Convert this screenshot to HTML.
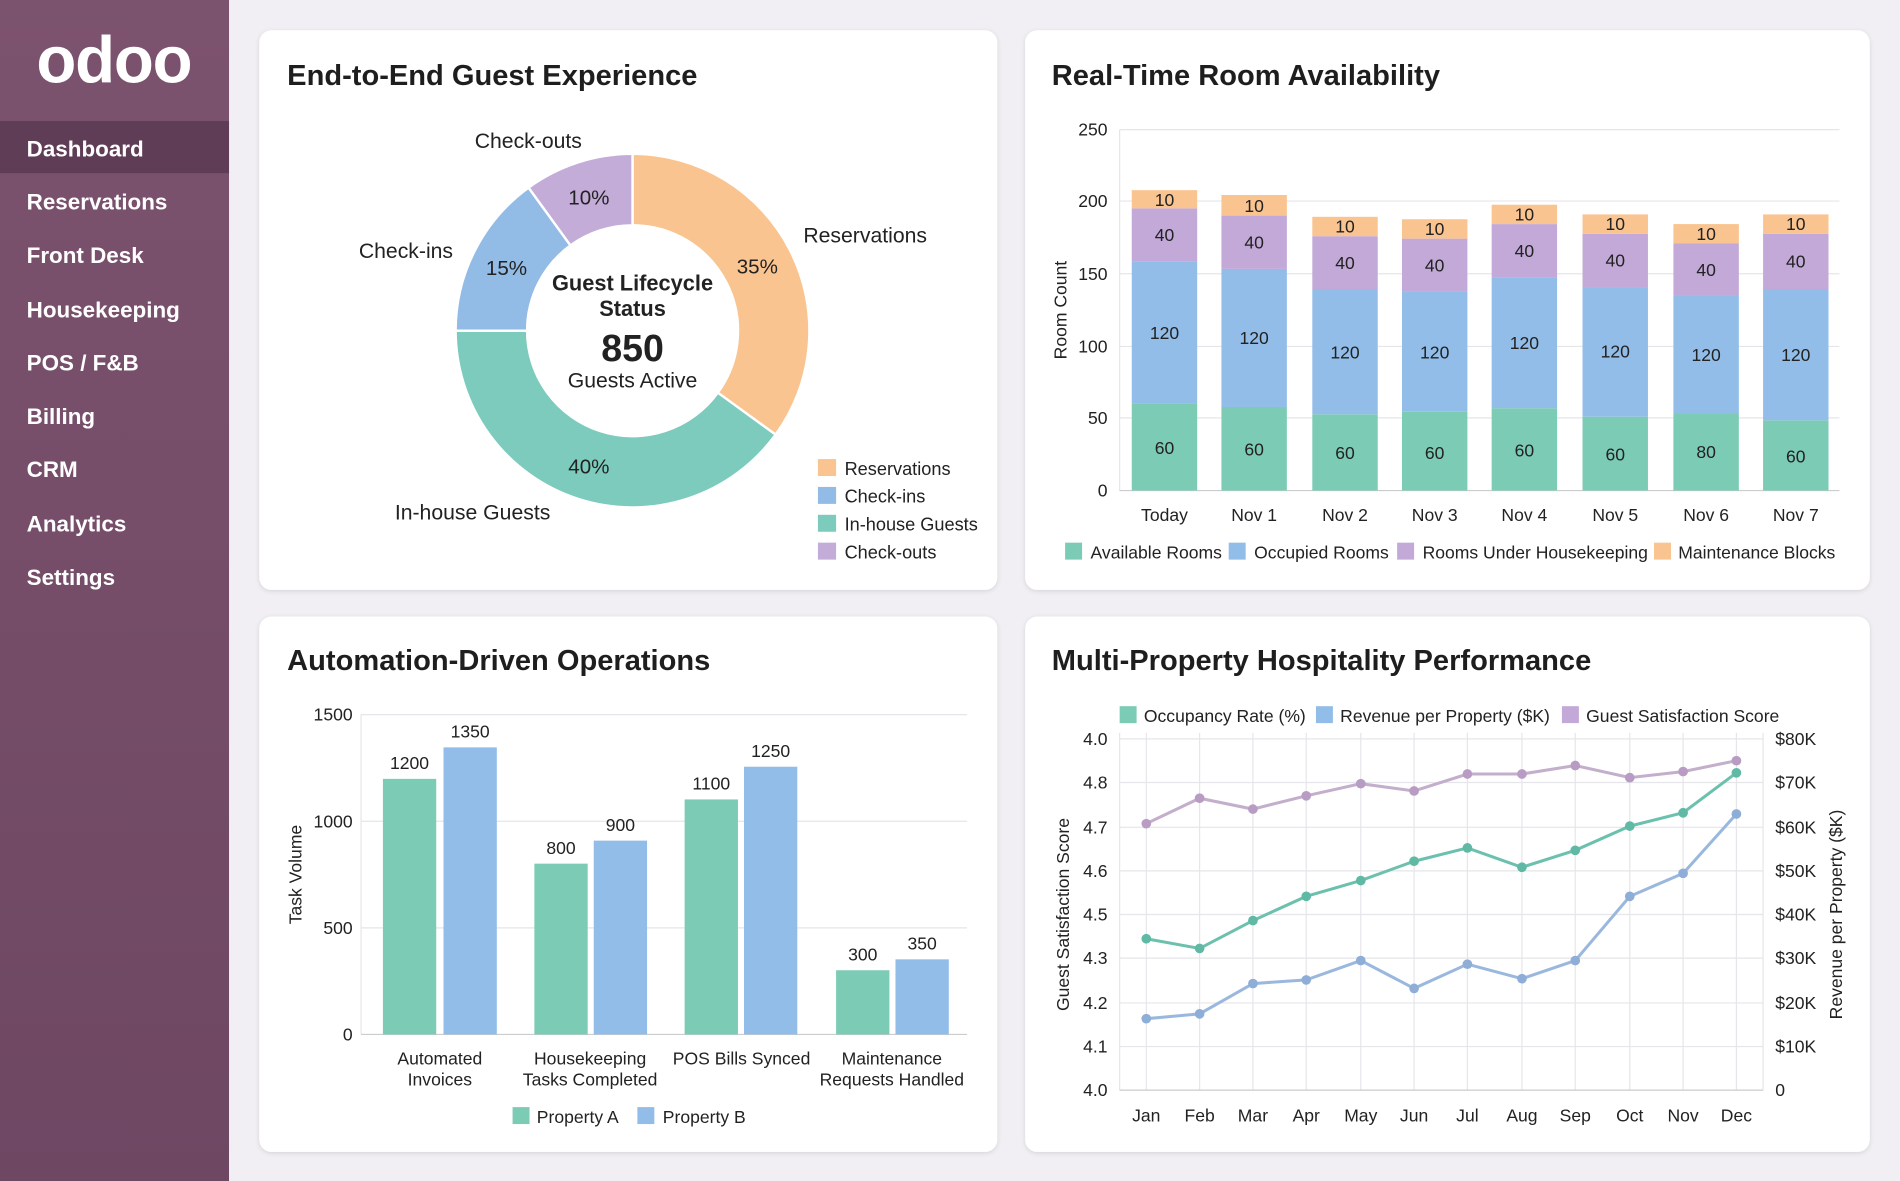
<!DOCTYPE html>
<html><head><meta charset="utf-8">
<style>
html,body{margin:0;padding:0;width:1900px;height:1181px;overflow:hidden;background:#f1eff3}
svg{display:block}
text{font-family:"Liberation Sans",sans-serif;fill:#222}
.t{font-size:24px;font-weight:bold;fill:#1e1e1e}
.m{font-size:18.5px;font-weight:bold;fill:#fff}
.s{font-size:15px;fill:#222}
.v{font-size:14.5px;fill:#333;text-anchor:middle}
.ax{font-size:14.5px;fill:#222}
.g{stroke:#e6e6ea;stroke-width:1}
</style></head><body>
<svg width="1900" height="1181" viewBox="0 0 1568 975" preserveAspectRatio="none">
<defs>
<linearGradient id="sb" x1="0" y1="0" x2="0" y2="1"><stop offset="0" stop-color="#7c536f"/><stop offset="1" stop-color="#6e4763"/></linearGradient>
<filter id="sh" x="-5%" y="-5%" width="110%" height="110%"><feDropShadow dx="0" dy="1" stdDeviation="2" flood-color="#000" flood-opacity="0.12"/></filter>
</defs>
<rect width="1568" height="975" fill="#f1eff3"/>
<!-- sidebar -->
<rect width="189" height="975" fill="url(#sb)"/>
<text x="94" y="68" text-anchor="middle" style="font-size:54px;fill:#fff;font-weight:bold;letter-spacing:-1px">odoo</text>
<rect x="0" y="100" width="189" height="43" fill="#5f3d56"/>
<text class="m" x="22" y="129">Dashboard</text>
<text class="m" x="22" y="173">Reservations</text>
<text class="m" x="22" y="217">Front Desk</text>
<text class="m" x="22" y="262">Housekeeping</text>
<text class="m" x="22" y="306">POS / F&amp;B</text>
<text class="m" x="22" y="350">Billing</text>
<text class="m" x="22" y="394">CRM</text>
<text class="m" x="22" y="439">Analytics</text>
<text class="m" x="22" y="483">Settings</text>
<!-- cards -->
<rect x="214" y="25" width="609" height="462" rx="10" fill="#fff" filter="url(#sh)"/>
<rect x="846" y="25" width="697" height="462" rx="10" fill="#fff" filter="url(#sh)"/>
<rect x="214" y="509" width="609" height="442" rx="10" fill="#fff" filter="url(#sh)"/>
<rect x="846" y="509" width="697" height="442" rx="10" fill="#fff" filter="url(#sh)"/>
<text class="t" x="237" y="70">End-to-End Guest Experience</text>
<text class="t" x="868" y="70">Real-Time Room Availability</text>
<text class="t" x="237" y="553">Automation-Driven Operations</text>
<text class="t" x="868" y="553">Multi-Property Hospitality Performance</text>

<!-- donut -->
<g stroke="#fff" stroke-width="2">
<path d="M522,127 A146,146 0 0 1 640.1,358.8 L592.4,324.2 A87,87 0 0 0 522,186 Z" fill="#f9c48f"/>
<path d="M640.1,358.8 A146,146 0 0 1 376,273 L435,273 A87,87 0 0 0 592.4,324.2 Z" fill="#7ccbbd"/>
<path d="M376,273 A146,146 0 0 1 436.2,154.9 L470.8,202.6 A87,87 0 0 0 435,273 Z" fill="#92bbe6"/>
<path d="M436.2,154.9 A146,146 0 0 1 522,127 L522,186 A87,87 0 0 0 470.8,202.6 Z" fill="#c3acd8"/>
</g>
<g text-anchor="middle">
<text x="522" y="240" style="font-size:18px;font-weight:bold">Guest Lifecycle</text>
<text x="522" y="261" style="font-size:18px;font-weight:bold">Status</text>
<text x="522" y="298" style="font-size:31px;font-weight:bold">850</text>
<text x="522" y="320" style="font-size:17.5px">Guests Active</text>
<text x="486" y="169" style="font-size:17px">10%</text>
<text x="625" y="226" style="font-size:17px">35%</text>
<text x="418" y="227" style="font-size:17px">15%</text>
<text x="486" y="391" style="font-size:17px">40%</text>
<text x="436" y="122" style="font-size:17.5px">Check-outs</text>
<text x="714" y="200" style="font-size:17.5px">Reservations</text>
<text x="335" y="213" style="font-size:17.5px">Check-ins</text>
<text x="390" y="429" style="font-size:17.5px">In-house Guests</text>
</g>
<rect x="675" y="379" width="15" height="14" fill="#f9c48f"/><text class="s" x="697" y="392">Reservations</text>
<rect x="675" y="402" width="15" height="14" fill="#92bbe6"/><text class="s" x="697" y="415">Check-ins</text>
<rect x="675" y="425" width="15" height="14" fill="#7ccbbd"/><text class="s" x="697" y="438">In-house Guests</text>
<rect x="675" y="448" width="15" height="14" fill="#c3acd8"/><text class="s" x="697" y="461">Check-outs</text>

<!-- stacked bars -->
<g class="g">
<line x1="924" y1="107" x2="1518" y2="107"/><line x1="924" y1="166" x2="1518" y2="166"/><line x1="924" y1="226" x2="1518" y2="226"/><line x1="924" y1="286" x2="1518" y2="286"/><line x1="924" y1="345" x2="1518" y2="345"/>
<line x1="924" y1="107" x2="924" y2="405"/>
</g>
<line x1="924" y1="405" x2="1518" y2="405" stroke="#ccc"/>
<g class="ax" text-anchor="end">
<text x="914" y="112">250</text><text x="914" y="171">200</text><text x="914" y="231">150</text><text x="914" y="291">100</text><text x="914" y="350">50</text><text x="914" y="410">0</text>
</g>
<text class="ax" transform="translate(880,256) rotate(-90)" text-anchor="middle">Room Count</text>
<g id="sb1"></g>
<g>
<!-- x, teal top, blue top, purple top, orange top -->
<rect x="934" y="333" width="54" height="72" fill="#7ccbb5"/><rect x="934" y="216" width="54" height="117" fill="#92bde8"/><rect x="934" y="172" width="54" height="44" fill="#c3a9d8"/><rect x="934" y="157" width="54" height="15" fill="#f9c48f"/>
<rect x="1008" y="336" width="54" height="69" fill="#7ccbb5"/><rect x="1008" y="222" width="54" height="114" fill="#92bde8"/><rect x="1008" y="178" width="54" height="44" fill="#c3a9d8"/><rect x="1008" y="161" width="54" height="17" fill="#f9c48f"/>
<rect x="1083" y="342" width="54" height="63" fill="#7ccbb5"/><rect x="1083" y="239" width="54" height="103" fill="#92bde8"/><rect x="1083" y="195" width="54" height="44" fill="#c3a9d8"/><rect x="1083" y="179" width="54" height="16" fill="#f9c48f"/>
<rect x="1157" y="340" width="54" height="65" fill="#7ccbb5"/><rect x="1157" y="241" width="54" height="99" fill="#92bde8"/><rect x="1157" y="197" width="54" height="44" fill="#c3a9d8"/><rect x="1157" y="181" width="54" height="16" fill="#f9c48f"/>
<rect x="1231" y="337" width="54" height="68" fill="#7ccbb5"/><rect x="1231" y="229" width="54" height="108" fill="#92bde8"/><rect x="1231" y="185" width="54" height="44" fill="#c3a9d8"/><rect x="1231" y="169" width="54" height="16" fill="#f9c48f"/>
<rect x="1306" y="344" width="54" height="61" fill="#7ccbb5"/><rect x="1306" y="237" width="54" height="107" fill="#92bde8"/><rect x="1306" y="193" width="54" height="44" fill="#c3a9d8"/><rect x="1306" y="177" width="54" height="16" fill="#f9c48f"/>
<rect x="1381" y="341" width="54" height="64" fill="#7ccbb5"/><rect x="1381" y="244" width="54" height="97" fill="#92bde8"/><rect x="1381" y="201" width="54" height="43" fill="#c3a9d8"/><rect x="1381" y="185" width="54" height="16" fill="#f9c48f"/>
<rect x="1455" y="347" width="54" height="58" fill="#7ccbb5"/><rect x="1455" y="239" width="54" height="108" fill="#92bde8"/><rect x="1455" y="193" width="54" height="46" fill="#c3a9d8"/><rect x="1455" y="177" width="54" height="16" fill="#f9c48f"/>
</g>
<g class="v">
<text x="961" y="375">60</text><text x="961" y="280">120</text><text x="961" y="199">40</text><text x="961" y="170">10</text>
<text x="1035" y="376">60</text><text x="1035" y="284">120</text><text x="1035" y="205">40</text><text x="1035" y="175">10</text>
<text x="1110" y="379">60</text><text x="1110" y="296">120</text><text x="1110" y="222">40</text><text x="1110" y="192">10</text>
<text x="1184" y="379">60</text><text x="1184" y="296">120</text><text x="1184" y="224">40</text><text x="1184" y="194">10</text>
<text x="1258" y="377">60</text><text x="1258" y="288">120</text><text x="1258" y="212">40</text><text x="1258" y="182">10</text>
<text x="1333" y="380">60</text><text x="1333" y="295">120</text><text x="1333" y="220">40</text><text x="1333" y="190">10</text>
<text x="1408" y="378">80</text><text x="1408" y="298">120</text><text x="1408" y="228">40</text><text x="1408" y="198">10</text>
<text x="1482" y="382">60</text><text x="1482" y="298">120</text><text x="1482" y="221">40</text><text x="1482" y="190">10</text>
</g>
<g class="ax" text-anchor="middle">
<text x="961" y="430">Today</text><text x="1035" y="430">Nov 1</text><text x="1110" y="430">Nov 2</text><text x="1184" y="430">Nov 3</text><text x="1258" y="430">Nov 4</text><text x="1333" y="430">Nov 5</text><text x="1408" y="430">Nov 6</text><text x="1482" y="430">Nov 7</text>
</g>
<rect x="879" y="448" width="14" height="14" fill="#7ccbb5"/><text class="ax" x="900" y="461">Available Rooms</text>
<rect x="1014" y="448" width="14" height="14" fill="#92bde8"/><text class="ax" x="1035" y="461">Occupied Rooms</text>
<rect x="1153" y="448" width="14" height="14" fill="#c3a9d8"/><text class="ax" x="1174" y="461">Rooms Under Housekeeping</text>
<rect x="1365" y="448" width="14" height="14" fill="#f9c48f"/><text class="ax" x="1385" y="461">Maintenance Blocks</text>

<!-- grouped bars -->
<g class="g">
<line x1="298" y1="590" x2="798" y2="590"/><line x1="298" y1="678" x2="798" y2="678"/><line x1="298" y1="766" x2="798" y2="766"/>
<line x1="298" y1="590" x2="298" y2="854"/>
</g>
<line x1="298" y1="854" x2="798" y2="854" stroke="#ccc"/>
<g class="ax" text-anchor="end">
<text x="291" y="595">1500</text><text x="291" y="683">1000</text><text x="291" y="771">500</text><text x="291" y="859">0</text>
</g>
<text class="ax" transform="translate(249,722) rotate(-90)" text-anchor="middle">Task Volume</text>
<rect x="316" y="643" width="44" height="211" fill="#7ccbb5"/><rect x="366" y="617" width="44" height="237" fill="#92bde8"/>
<rect x="441" y="713" width="44" height="141" fill="#7ccbb5"/><rect x="490" y="694" width="44" height="160" fill="#92bde8"/>
<rect x="565" y="660" width="44" height="194" fill="#7ccbb5"/><rect x="614" y="633" width="44" height="221" fill="#92bde8"/>
<rect x="690" y="801" width="44" height="53" fill="#7ccbb5"/><rect x="739" y="792" width="44" height="62" fill="#92bde8"/>
<g class="v">
<text x="338" y="635">1200</text><text x="388" y="609">1350</text>
<text x="463" y="705">800</text><text x="512" y="686">900</text>
<text x="587" y="652">1100</text><text x="636" y="625">1250</text>
<text x="712" y="793">300</text><text x="761" y="784">350</text>
</g>
<g class="ax" text-anchor="middle">
<text x="363" y="879">Automated</text><text x="363" y="896">Invoices</text>
<text x="487" y="879">Housekeeping</text><text x="487" y="896">Tasks Completed</text>
<text x="612" y="879">POS Bills Synced</text>
<text x="736" y="879">Maintenance</text><text x="736" y="896">Requests Handled</text>
</g>
<rect x="423" y="914" width="14" height="14" fill="#7ccbb5"/><text class="ax" x="443" y="927">Property A</text>
<rect x="526" y="914" width="14" height="14" fill="#92bde8"/><text class="ax" x="547" y="927">Property B</text>

<!-- line chart -->
<g class="g">
<line x1="924" y1="610" x2="1455" y2="610"/><line x1="924" y1="646" x2="1455" y2="646"/><line x1="924" y1="683" x2="1455" y2="683"/><line x1="924" y1="719" x2="1455" y2="719"/><line x1="924" y1="755" x2="1455" y2="755"/><line x1="924" y1="791" x2="1455" y2="791"/><line x1="924" y1="828" x2="1455" y2="828"/><line x1="924" y1="864" x2="1455" y2="864"/>
<line x1="946" y1="605" x2="946" y2="900"/><line x1="990" y1="605" x2="990" y2="900"/><line x1="1034" y1="605" x2="1034" y2="900"/><line x1="1078" y1="605" x2="1078" y2="900"/><line x1="1123" y1="605" x2="1123" y2="900"/><line x1="1167" y1="605" x2="1167" y2="900"/><line x1="1211" y1="605" x2="1211" y2="900"/><line x1="1256" y1="605" x2="1256" y2="900"/><line x1="1300" y1="605" x2="1300" y2="900"/><line x1="1345" y1="605" x2="1345" y2="900"/><line x1="1389" y1="605" x2="1389" y2="900"/><line x1="1433" y1="605" x2="1433" y2="900"/>
<line x1="924" y1="605" x2="924" y2="900"/><line x1="1455" y1="605" x2="1455" y2="900"/>
</g>
<line x1="924" y1="900" x2="1455" y2="900" stroke="#ccc"/>
<g class="ax" text-anchor="end">
<text x="914" y="615">4.0</text><text x="914" y="651">4.8</text><text x="914" y="688">4.7</text><text x="914" y="724">4.6</text><text x="914" y="760">4.5</text><text x="914" y="796">4.3</text><text x="914" y="833">4.2</text><text x="914" y="869">4.1</text><text x="914" y="905">4.0</text>
</g>
<g class="ax">
<text x="1465" y="615">$80K</text><text x="1465" y="651">$70K</text><text x="1465" y="688">$60K</text><text x="1465" y="724">$50K</text><text x="1465" y="760">$40K</text><text x="1465" y="796">$30K</text><text x="1465" y="833">$20K</text><text x="1465" y="869">$10K</text><text x="1465" y="905">0</text>
</g>
<text class="ax" transform="translate(882,755) rotate(-90)" text-anchor="middle">Guest Satisfaction Score</text>
<text class="ax" transform="translate(1520,755) rotate(-90)" text-anchor="middle">Revenue per Property ($K)</text>
<g class="ax" text-anchor="middle">
<text x="946" y="926">Jan</text><text x="990" y="926">Feb</text><text x="1034" y="926">Mar</text><text x="1078" y="926">Apr</text><text x="1123" y="926">May</text><text x="1167" y="926">Jun</text><text x="1211" y="926">Jul</text><text x="1256" y="926">Aug</text><text x="1300" y="926">Sep</text><text x="1345" y="926">Oct</text><text x="1389" y="926">Nov</text><text x="1433" y="926">Dec</text>
</g>
<rect x="924" y="583" width="14" height="14" fill="#7ccbb5"/><text class="ax" x="944" y="596">Occupancy Rate (%)</text>
<rect x="1086" y="583" width="14" height="14" fill="#92bde8"/><text class="ax" x="1106" y="596">Revenue per Property ($K)</text>
<rect x="1289" y="583" width="14" height="14" fill="#c3a9d8"/><text class="ax" x="1309" y="596">Guest Satisfaction Score</text>
<g fill="none" stroke-width="2.5">
<polyline stroke="#c3aecb" points="946,680 990,659 1034,668 1078,657 1123,647 1167,653 1211,639 1256,639 1300,632 1345,642 1389,637 1433,628"/>
<polyline stroke="#6cc0ae" points="946,775 990,783 1034,760 1078,740 1123,727 1167,711 1211,700 1256,716 1300,702 1345,682 1389,671 1433,638"/>
<polyline stroke="#9ab8de" points="946,841 990,837 1034,812 1078,809 1123,793 1167,816 1211,796 1256,808 1300,793 1345,740 1389,721 1433,672"/>
</g>
<g fill="#b89cc4">
<circle cx="946" cy="680" r="4"/><circle cx="990" cy="659" r="4"/><circle cx="1034" cy="668" r="4"/><circle cx="1078" cy="657" r="4"/><circle cx="1123" cy="647" r="4"/><circle cx="1167" cy="653" r="4"/><circle cx="1211" cy="639" r="4"/><circle cx="1256" cy="639" r="4"/><circle cx="1300" cy="632" r="4"/><circle cx="1345" cy="642" r="4"/><circle cx="1389" cy="637" r="4"/><circle cx="1433" cy="628" r="4"/>
</g>
<g fill="#5fb9a5">
<circle cx="946" cy="775" r="4"/><circle cx="990" cy="783" r="4"/><circle cx="1034" cy="760" r="4"/><circle cx="1078" cy="740" r="4"/><circle cx="1123" cy="727" r="4"/><circle cx="1167" cy="711" r="4"/><circle cx="1211" cy="700" r="4"/><circle cx="1256" cy="716" r="4"/><circle cx="1300" cy="702" r="4"/><circle cx="1345" cy="682" r="4"/><circle cx="1389" cy="671" r="4"/><circle cx="1433" cy="638" r="4"/>
</g>
<g fill="#8eaed8">
<circle cx="946" cy="841" r="4"/><circle cx="990" cy="837" r="4"/><circle cx="1034" cy="812" r="4"/><circle cx="1078" cy="809" r="4"/><circle cx="1123" cy="793" r="4"/><circle cx="1167" cy="816" r="4"/><circle cx="1211" cy="796" r="4"/><circle cx="1256" cy="808" r="4"/><circle cx="1300" cy="793" r="4"/><circle cx="1345" cy="740" r="4"/><circle cx="1389" cy="721" r="4"/><circle cx="1433" cy="672" r="4"/>
</g>
</svg>
</body></html>
